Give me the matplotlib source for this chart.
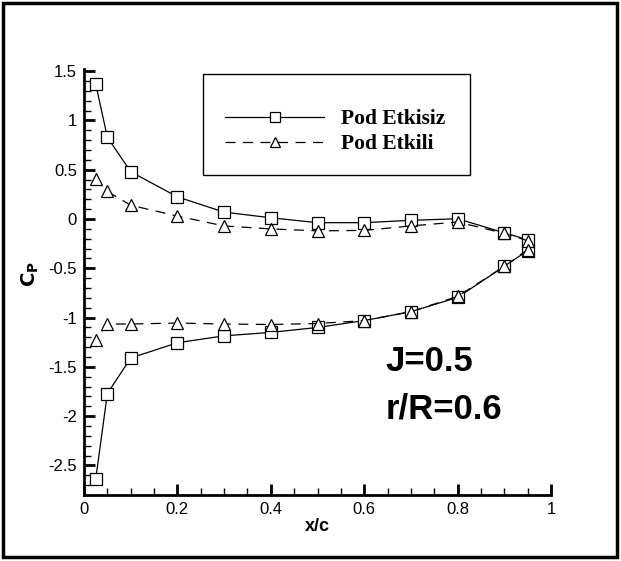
#!/usr/bin/env python3

import matplotlib.pyplot as plt
from matplotlib.patches import Rectangle
from matplotlib.ticker import MultipleLocator

# chordwise stations: upper surface from leading to trailing edge, then lower back
x_upper = [0.025, 0.05, 0.1, 0.2, 0.3, 0.4, 0.5, 0.6, 0.7, 0.8, 0.9, 0.95]
x_lower = [0.95, 0.9, 0.8, 0.7, 0.6, 0.5, 0.4, 0.3, 0.2, 0.1, 0.05, 0.025]

cp_etkisiz_upper = [1.37, 0.83, 0.48, 0.225, 0.07, 0.013, -0.037, -0.037, -0.013, 0.003, -0.14, -0.21]
cp_etkisiz_lower = [-0.32, -0.48, -0.795, -0.94, -1.03, -1.10, -1.15, -1.185, -1.255, -1.41, -1.77, -2.64]

cp_etkili_upper = [0.41, 0.28, 0.14, 0.03, -0.07, -0.10, -0.12, -0.115, -0.07, -0.03, -0.145, -0.22]
cp_etkili_lower = [-0.31, -0.48, -0.785, -0.94, -1.03, -1.06, -1.07, -1.065, -1.055, -1.065, -1.065, -1.23]

labels = ["Pod Etkisiz", "Pod Etkili"]

plt.rcParams["font.family"] = ["Liberation Sans", "DejaVu Sans"]

fig = plt.figure(figsize=(6.21, 5.61), dpi=100)
ax = fig.add_axes([0.1353, 0.1176, 0.752, 0.759])

mk = dict(markersize=8, markerfacecolor="white", markeredgecolor="black", markeredgewidth=0.9)
ax.plot(x_upper + x_lower, cp_etkisiz_upper + cp_etkisiz_lower, color="black", lw=0.9,
        marker="s", label=labels[0], **mk)
ax.plot(x_upper + x_lower, cp_etkili_upper + cp_etkili_lower, color="black", lw=0.9,
        ls=(0, (8, 6)), marker="^", label=labels[1], **mk)

ax.set_xlim(0, 1)
ax.set_ylim(-2.8, 1.52)
ax.xaxis.set_minor_locator(MultipleLocator(0.05))
ax.yaxis.set_minor_locator(MultipleLocator(0.1))
ax.set_xticks([0, 0.2, 0.4, 0.6, 0.8, 1.0], ["0", "0.2", "0.4", "0.6", "0.8", "1"])
ax.set_yticks([-2.5, -2, -1.5, -1, -0.5, 0, 0.5, 1, 1.5],
              ["-2.5", "-2", "-1.5", "-1", "-0.5", "0", "0.5", "1", "1.5"])
ax.tick_params(which="major", direction="in", length=8, width=2, labelsize=12, pad=5)
ax.tick_params(which="minor", direction="in", length=5, width=1)
for side in ["top", "right"]:
    ax.spines[side].set_visible(False)
for side in ["left", "bottom"]:
    ax.spines[side].set_linewidth(2)

ax.set_xlabel("x/c", fontsize=13, fontweight="bold", labelpad=1)
ax.set_ylabel(r"$\mathbf{C_P}$", fontsize=14)
ax.yaxis.set_label_coords(-0.092, 0.52)

big = dict(fontsize=25, fontweight="bold", va="center", ha="left")
ax.text(0.645, -1.45, "J=0.5", **big)
ax.text(0.645, -1.93, "r/R=0.6", **big)

leg = ax.legend(loc="upper left", bbox_to_anchor=(0.279, 0.931), frameon=False,
                handlelength=4.6, handletextpad=0.8, borderpad=0, labelspacing=0.22,
                prop={"family": "Liberation Serif", "weight": "bold", "size": 15.5})
for h in leg.legend_handles:
    h.set_markersize(7)
ax.add_patch(Rectangle((0.255, 0.751), 0.572, 0.237, transform=ax.transAxes,
                       fill=False, edgecolor="black", lw=1, clip_on=False))

fig.patches.append(Rectangle((0.005, 0.007), 0.989, 0.988, transform=fig.transFigure,
                             fill=False, edgecolor="black", lw=2.5))

fig.savefig("out.png", dpi=100)
plt.close(fig)
